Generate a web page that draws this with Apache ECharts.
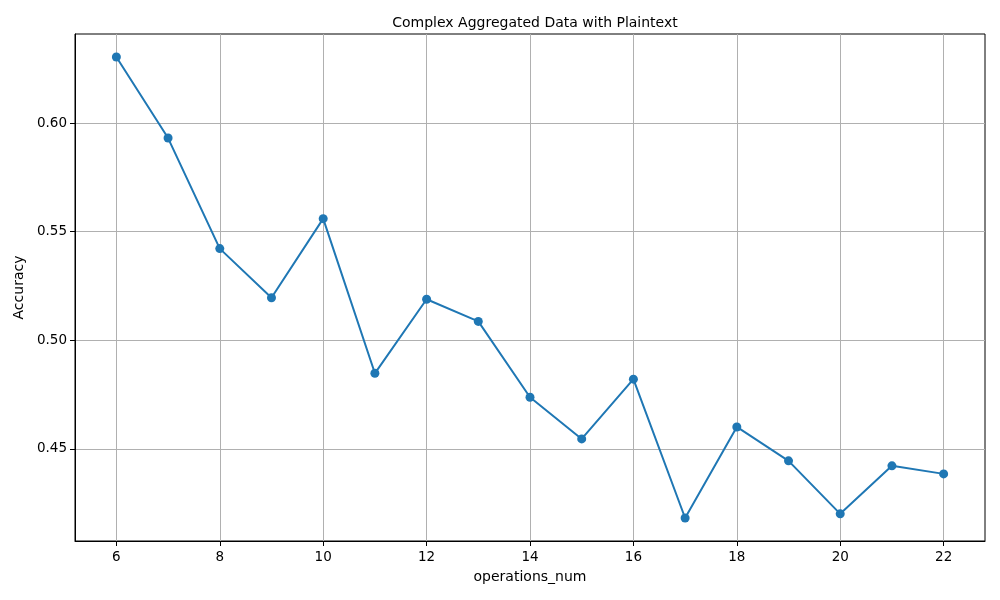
<!DOCTYPE html>
<html>
<head>
<meta charset="utf-8">
<script src="https://cdn.jsdelivr.net/npm/echarts@6/dist/echarts.min.js"></script>
<style>
  html, body { margin: 0; padding: 0; background: #fff; }
  #chart { width: 1000px; height: 600px; }
</style>
</head>
<body>
<div id="chart"></div>
<script>
// values
var operations = [6, 7, 8, 9, 10, 11, 12, 13, 14, 15, 16, 17, 18, 19, 20, 21, 22];
var accuracy = [0.6304, 0.5931, 0.5422, 0.5196, 0.5560, 0.4848, 0.5189, 0.5087,
                0.4738, 0.4546, 0.4821, 0.4182, 0.4601, 0.4445, 0.4201, 0.4422, 0.4385];
var xTicks = [6, 8, 10, 12, 14, 16, 18, 20, 22];
var yTicks = [0.45, 0.50, 0.55, 0.60];

var font = 'DejaVu Sans';
var chart = echarts.init(document.getElementById('chart'));

var points = operations.map(function (x, i) { return [x, accuracy[i]]; });

var option = {
    animation: false,
    title: {
        text: 'Complex Aggregated Data with Plaintext',
        left: 530,
        top: 11,
        textAlign: 'center',
        textStyle: { fontFamily: font, fontSize: 14, fontWeight: 'normal', color: '#000' }
    },
    grid: {
        left: 75, right: 15, top: 34, bottom: 59,
        show: true, borderColor: '#000', borderWidth: 1
    },
    xAxis: {
        type: 'value',
        min: 5.2,
        max: 22.8,
        name: 'operations_num',
        nameLocation: 'middle',
        nameGap: 29,
        nameTextStyle: { fontFamily: font, fontSize: 14, color: '#000' },
        axisLine: { show: true, lineStyle: { color: '#000', width: 1 } },
        axisTick: { show: true, length: 5, customValues: xTicks, lineStyle: { color: '#000' } },
        axisLabel: { customValues: xTicks, fontFamily: font, fontSize: 13.5, color: '#000', margin: 9 },
        splitLine: { show: true, lineStyle: { color: '#b0b0b0', width: 1 } }
    },
    yAxis: {
        type: 'value',
        min: 0.4076,
        max: 0.641,
        name: 'Accuracy',
        nameLocation: 'middle',
        nameGap: 48,
        nameTextStyle: { fontFamily: font, fontSize: 14, color: '#000' },
        axisLine: { show: true, lineStyle: { color: '#000', width: 1 } },
        axisTick: { show: true, length: 5, customValues: yTicks, lineStyle: { color: '#000' } },
        axisLabel: {
            customValues: yTicks,
            fontFamily: font, fontSize: 13.5, color: '#000', margin: 8,
            formatter: function (v) { return v.toFixed(2); }
        },
        splitLine: { show: true, lineStyle: { color: '#b0b0b0', width: 1 } }
    },
    series: [{
        type: 'line',
        data: points,
        symbol: 'circle',
        symbolSize: 9,
        showAllSymbol: true,
        lineStyle: { color: '#1f77b4', width: 2 },
        itemStyle: { color: '#1f77b4' }
    }]
};

chart.setOption(option);
</script>
</body>
</html>
